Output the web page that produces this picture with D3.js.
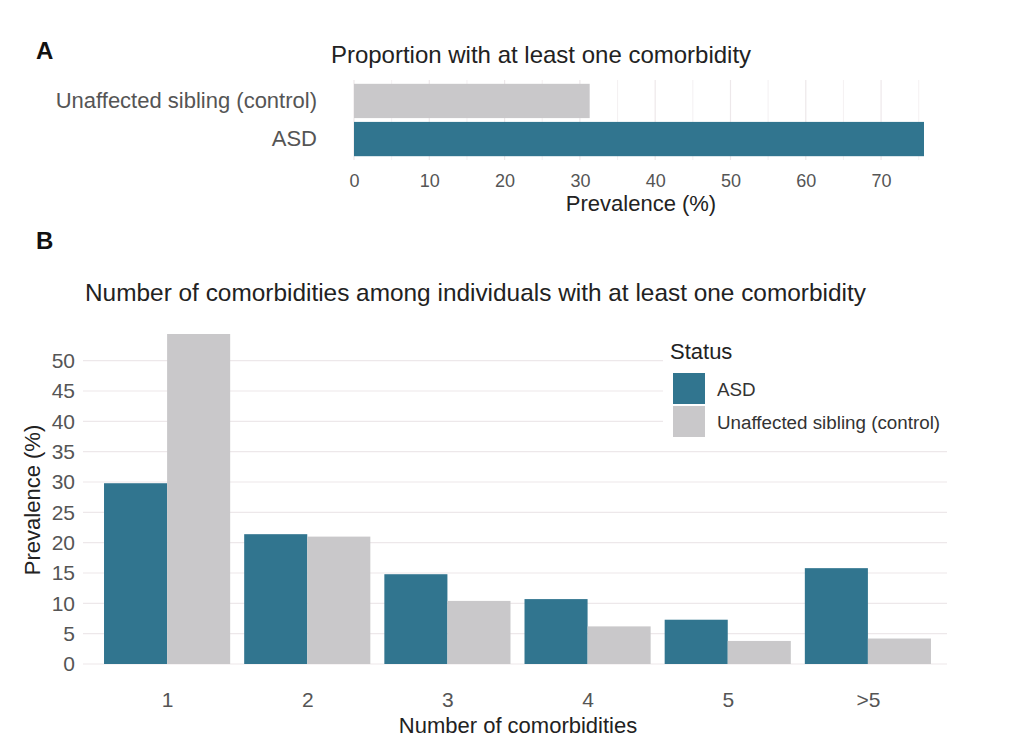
<!DOCTYPE html>
<html>
<head>
<meta charset="utf-8">
<script src="https://cdn.jsdelivr.net/npm/d3@7"></script>
<style>
  body { margin: 0; background: #fff; }
  svg text { font-family: "Liberation Sans", Arial, sans-serif; }
</style>
</head>
<body>
<div id="chart"></div>
<script>
// ---- data ----
const statuses = ['ASD', 'Unaffected sibling (control)'];
const anyComorbidity = [75.7, 31.3]; // ASD, control
const countCategories = ['1', '2', '3', '4', '5', '>5'];
const asdValues = [29.8, 21.4, 14.8, 10.7, 7.3, 15.8];
const controlValues = [54.4, 21.0, 10.4, 6.2, 3.8, 4.2];
const topTicks = [0, 10, 20, 30, 40, 50, 60, 70];
const bottomTicks = [0, 5, 10, 15, 20, 25, 30, 35, 40, 45, 50];

const colors = { 'ASD': '#31758f', 'Unaffected sibling (control)': '#c9c8ca' };
const gridColor = '#ede8ea';
const tickColor = '#555';
const titleColor = '#222';
const font = '"Liberation Sans", Arial, sans-serif';

const svg = d3.select('#chart').append('svg')
  .attr('width', 1024).attr('height', 749);

// ==============================
// Panel A
// ==============================
const a = { left: 354, right: 924, top: 80, bottom: 160 };

svg.append('text').attr('x', 36).attr('y', 59)
  .attr('font-size', 24).attr('font-weight', 'bold').attr('fill', '#111')
  .text('A');

svg.append('text').attr('x', 541).attr('y', 63)
  .attr('text-anchor', 'middle').attr('font-size', 24).attr('fill', titleColor)
  .text('Proportion with at least one comorbidity');

const xA = d3.scaleLinear().domain([0, 75.7]).range([a.left, a.right]);
const yA = d3.scaleBand()
  .domain(['Unaffected sibling (control)', 'ASD'])
  .range([a.top, a.bottom]).padding(0.1);

// minor + major gridlines
const gA = svg.append('g');
gA.selectAll('line.grid')
  .data(d3.range(0, 76, 5))
  .join('line')
  .attr('x1', (d) => xA(d)).attr('x2', (d) => xA(d))
  .attr('y1', a.top).attr('y2', a.bottom)
  .attr('stroke', gridColor).attr('stroke-width', (d) => (d % 10 === 0 ? 1.2 : 0.6));

gA.selectAll('rect')
  .data(statuses)
  .join('rect')
  .attr('x', xA(0))
  .attr('y', (d) => yA(d))
  .attr('width', (d, i) => xA(anyComorbidity[i]) - xA(0))
  .attr('height', yA.bandwidth())
  .attr('fill', (d) => colors[d]);

const axA = svg.append('g')
  .attr('transform', `translate(0,${a.bottom + 10})`)
  .call(d3.axisBottom(xA).tickValues(topTicks).tickSize(0).tickPadding(4));
axA.select('.domain').remove();
axA.selectAll('text').attr('font-size', 18).attr('fill', tickColor)
  .attr('font-family', font);

const ayA = svg.append('g')
  .attr('transform', `translate(${a.left - 37},0)`)
  .call(d3.axisLeft(yA).tickSize(0).tickPadding(0));
ayA.select('.domain').remove();
ayA.selectAll('text').attr('font-size', 22).attr('fill', tickColor)
  .attr('font-family', font);

svg.append('text').attr('x', 641).attr('y', 211)
  .attr('text-anchor', 'middle').attr('font-size', 22).attr('fill', titleColor)
  .text('Prevalence (%)');

// ==============================
// Panel B
// ==============================
const b = { left: 83, right: 952, top: 334, bottom: 664 };

svg.append('text').attr('x', 36).attr('y', 249)
  .attr('font-size', 24).attr('font-weight', 'bold').attr('fill', '#111')
  .text('B');

svg.append('text').attr('x', 85).attr('y', 301)
  .attr('font-size', 24.4).attr('fill', titleColor)
  .text('Number of comorbidities among individuals with at least one comorbidity');

const yB = d3.scaleLinear().domain([0, 54.4]).range([b.bottom, b.top]);
// ggplot-like discrete expansion: 0.6 of a step on each side, dodge width 0.9
const step = (b.right - b.left) / (countCategories.length - 1 + 1.2);
const xCenter = d3.scalePoint().domain(countCategories)
  .range([b.left + 0.6 * step, b.right - 0.6 * step]);
const x1 = d3.scaleBand().domain(statuses).range([-0.45 * step, 0.45 * step]);

const gB = svg.append('g');
gB.selectAll('line.grid')
  .data(bottomTicks)
  .join('line')
  .attr('x1', b.left).attr('x2', b.right - 5)
  .attr('y1', (d) => yB(d)).attr('y2', (d) => yB(d))
  .attr('stroke', gridColor).attr('stroke-width', 1.2);

const rows = countCategories.map((c, i) => ({
  cat: c,
  vals: [
    { status: statuses[0], v: asdValues[i] },
    { status: statuses[1], v: controlValues[i] },
  ],
}));

gB.selectAll('g.grp')
  .data(rows)
  .join('g')
  .attr('class', 'grp')
  .attr('transform', (d) => `translate(${xCenter(d.cat)},0)`)
  .selectAll('rect')
  .data((d) => d.vals)
  .join('rect')
  .attr('x', (d) => x1(d.status))
  .attr('y', (d) => yB(d.v))
  .attr('width', x1.bandwidth())
  .attr('height', (d) => yB(0) - yB(d.v))
  .attr('fill', (d) => colors[d.status]);

const axB = svg.append('g')
  .attr('transform', `translate(0,${b.bottom + 24})`)
  .call(d3.axisBottom(xCenter).tickSize(0).tickPadding(4));
axB.select('.domain').remove();
axB.selectAll('text').attr('font-size', 21).attr('fill', tickColor)
  .attr('font-family', font);

const ayB = svg.append('g')
  .attr('transform', `translate(${b.left - 8},0)`)
  .call(d3.axisLeft(yB).tickValues(bottomTicks).tickSize(0).tickPadding(0));
ayB.select('.domain').remove();
ayB.selectAll('text').attr('font-size', 21).attr('fill', tickColor)
  .attr('font-family', font);

svg.append('text').attr('x', 518).attr('y', 733)
  .attr('text-anchor', 'middle').attr('font-size', 22).attr('fill', titleColor)
  .text('Number of comorbidities');

svg.append('text')
  .attr('transform', `translate(40,${(b.top + b.bottom) / 2 + 1}) rotate(-90)`)
  .attr('text-anchor', 'middle').attr('font-size', 22).attr('fill', titleColor)
  .text('Prevalence (%)');

// legend (inside plot, white background)
const leg = svg.append('g').attr('transform', 'translate(663,334)');
leg.append('rect').attr('x', 0).attr('y', 0).attr('width', 289).attr('height', 108)
  .attr('fill', '#fff');
leg.append('text').attr('x', 7).attr('y', 25)
  .attr('font-size', 22).attr('fill', titleColor).text('Status');
const items = leg.selectAll('g.item')
  .data(statuses)
  .join('g')
  .attr('class', 'item')
  .attr('transform', (d, i) => `translate(10,${39 + i * 33})`);
items.append('rect').attr('width', 32).attr('height', 31)
  .attr('fill', (d) => colors[d]);
items.append('text').attr('x', 44).attr('y', 23)
  .attr('font-size', 18.8).attr('fill', '#333')
  .text((d) => d);
</script>
</body>
</html>
